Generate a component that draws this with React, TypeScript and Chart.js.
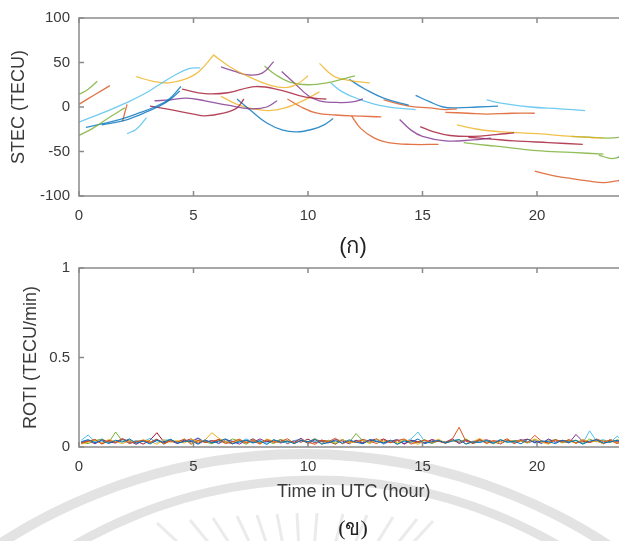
import React, { useEffect, useRef } from 'react';
import { Chart, registerables } from 'chart.js';

Chart.register(...registerables);
Chart.defaults.font.family = "'Liberation Sans', Arial, Helvetica, sans-serif";

// MATLAB default line colours
const COLORS = ['#0072BD', '#D95319', '#EDB120', '#7E2F8E', '#77AC30', '#4DBEEE', '#A2142F'];

// ---------- axes ----------
const hourTicks = [0, 5, 10, 15, 20];
const stecTicks = [-100, -50, 0, 50, 100];
const rotiTicks = [0, 0.5, 1];

// ---------- (ก) STEC arcs: [hour, TECU] ----------
const stecArcs: number[][][] = [
  [[0, 14], [0.4, 20], [0.8, 29]],
  [[0, 3], [0.7, 14], [1.35, 24]],
  [[0, -17], [0.5, -12], [1.2, -5], [2.0, 4], [2.8, 14], [3.5, 25], [4.2, 36], [4.8, 43], [5.3, 44]],
  [[0, -32], [0.6, -24], [1.3, -12], [2.0, -1]],
  [[0.3, -23], [1.0, -19], [1.8, -14], [2.6, -7], [3.3, 0], [3.9, 8], [4.45, 23]],
  [[1.0, -20], [2.0, -15], [3.0, -5], [3.8, 5], [4.4, 18]],
  [[1.9, -16], [2.1, 3]],
  [[2.1, -30], [2.5, -25], [2.95, -12]],
  [[2.5, 34], [3.2, 29], [3.9, 27], [4.6, 31], [5.2, 39], [5.9, 59]],
  [[5.9, 58], [6.6, 45], [7.5, 33], [8.4, 24], [9.1, 22], [9.6, 27], [10.0, 35]],
  [[6.2, 45], [6.8, 40], [7.4, 36], [8.0, 38], [8.5, 51]],
  [[4.5, 20], [5.5, 15], [6.5, 16], [7.7, 23], [8.8, 19], [9.9, 11], [10.8, 9]],
  [[3.3, 7], [4.0, 8], [4.7, 10], [5.5, 7], [6.5, 2], [7.5, -2], [8.2, 0], [8.65, 7]],
  [[3.1, 1], [4.0, -3], [5.0, -8], [5.5, -10], [6.3, -7], [6.9, -1], [7.2, 9]],
  [[6.9, 9], [7.5, -4], [8.2, -18], [8.9, -26], [9.5, -28], [10.2, -25], [10.7, -20], [11.1, -13]],
  [[6.2, 12], [6.9, 3], [7.6, -2], [8.3, -4], [9.0, -1], [9.7, 6], [10.5, 17]],
  [[8.1, 46], [8.6, 36], [9.2, 28], [10.0, 25], [11.0, 28], [11.6, 32], [12.05, 35]],
  [[8.85, 40], [9.4, 27], [10.0, 13], [10.5, 7], [11.4, 5], [12.0, 6], [12.4, 9]],
  [[9.1, 9], [9.7, 0], [10.4, -7], [11.2, -9], [11.9, -10], [13.2, -11]],
  [[11.9, -10], [12.3, -24], [12.9, -35], [13.5, -40], [14.5, -42], [15.7, -42]],
  [[10.5, 49], [11.1, 35], [11.8, 30], [12.7, 27]],
  [[11.0, 27], [11.5, 17], [12.2, 9], [13.3, 1], [14.7, -3]],
  [[11.8, 31], [12.5, 20], [13.3, 10], [14.4, 2]],
  [[13.3, 8], [14.4, 1], [15.3, -1], [16.0, -3], [16.5, -2]],
  [[14.7, 13], [15.3, 6], [15.9, 0], [16.5, -1], [17.4, 0], [18.3, 1]],
  [[16.0, -6], [17.0, -7], [17.8, -8], [18.9, -7], [19.9, -7]],
  [[17.8, 8], [18.5, 4], [19.7, 0], [21.0, -2], [22.1, -4]],
  [[14.0, -14], [14.5, -26], [15.0, -33], [16.0, -38], [17.2, -37], [18.0, -35]],
  [[14.9, -22], [15.5, -28], [16.2, -32], [17.2, -33], [18.2, -31], [19.0, -29]],
  [[17.0, -34], [18.0, -36], [19.0, -38], [20.5, -40], [22.0, -42]],
  [[16.5, -20], [17.4, -25], [18.5, -28], [20.0, -30], [21.5, -33], [22.9, -35]],
  [[16.8, -40], [17.8, -43], [18.6, -45], [20.0, -49], [21.5, -51], [22.9, -53]],
  [[21.5, -33], [22.3, -34], [23.1, -35], [24, -33]],
  [[22.7, -54], [23.3, -58], [23.9, -53], [24, -52]],
  [[23.5, -57], [24, -52]],
  [[19.9, -72], [20.7, -77], [21.4, -80], [22.2, -83], [22.9, -85], [23.5, -83], [24, -81]],
];
const stecArcColor = [4, 1, 5, 4, 0, 0, 1, 5, 2, 2, 3, 6, 3, 6, 0, 2, 4, 3, 1, 1, 2, 5, 0, 1, 0, 1, 5, 3, 6, 6, 2, 4, 4, 4, 5, 1];

// ---------- (ข) ROTI: samples every 0.3 h from 0.1 h, values in 0.001 TECU/min ----------
const rotiStartHour = 0.1;
const rotiStepHour = 0.3;
const rotiBlue = [30, 41, 24, 35, 19, 38, 27, 45, 22, 33, 17, 37, 26, 43, 21, 30, 36, 15, 40, 23, 31, 46, 18, 29, 38, 22, 34, 14, 41, 26, 33, 19, 37, 29, 44, 16, 25, 36, 21, 40, 27, 18, 42, 31, 23, 38, 15, 34, 26, 45, 19, 30, 37, 22, 33, 41, 16, 29, 25, 36, 21, 40, 27, 32, 18, 43, 23, 34, 30, 19, 38, 26, 36, 16, 33, 41, 22, 29, 37, 25];
const rotiOrange = [21, 33, 42, 16, 36, 26, 48, 19, 30, 38, 23, 41, 18, 34, 27, 45, 15, 37, 25, 33, 40, 19, 29, 44, 22, 36, 16, 41, 26, 31, 46, 21, 37, 27, 15, 38, 30, 49, 18, 34, 25, 42, 33, 19, 40, 23, 36, 45, 16, 29, 38, 26, 34, 21, 44, 110, 31, 23, 41, 19, 36, 29, 46, 18, 37, 25, 65, 33, 22, 40, 27, 42, 21, 34, 25, 45, 30, 37, 19, 33];
const rotiYellow = [16, 27, 37, 22, 42, 30, 19, 34, 25, 40, 33, 15, 41, 26, 36, 21, 45, 29, 38, 80, 49, 31, 23, 41, 27, 37, 18, 44, 33, 25, 36, 21, 40, 29, 46, 16, 34, 26, 42, 22, 30, 38, 19, 45, 27, 36, 23, 41, 31, 15, 37, 26, 44, 22, 33, 40, 18, 30, 48, 25, 34, 19, 41, 29, 37, 23, 45, 27, 16, 38, 26, 36, 21, 42, 30, 33, 18, 40, 25, 31];
const rotiPurple = [25, 36, 18, 40, 29, 22, 44, 33, 15, 37, 27, 42, 23, 34, 19, 38, 30, 48, 26, 36, 21, 41, 31, 16, 37, 26, 45, 29, 38, 22, 34, 27, 49, 19, 40, 30, 23, 42, 33, 18, 38, 25, 36, 45, 21, 33, 41, 16, 37, 29, 22, 40, 31, 26, 46, 19, 36, 27, 42, 23, 33, 18, 38, 30, 41, 25, 34, 21, 44, 27, 37, 22, 70, 31, 26, 40, 19, 34, 29, 41];
const rotiGreen = [27, 19, 37, 42, 25, 84, 31, 40, 21, 34, 26, 44, 16, 36, 30, 41, 22, 38, 29, 18, 37, 23, 45, 33, 15, 40, 27, 34, 19, 42, 30, 25, 38, 21, 46, 29, 36, 18, 41, 26, 75, 33, 22, 44, 27, 37, 16, 40, 31, 23, 42, 19, 34, 29, 38, 25, 45, 21, 36, 30, 18, 40, 26, 37, 33, 22, 42, 27, 34, 41, 23, 31, 38, 19, 44, 29, 36, 25, 40, 33];
const rotiLightBlue = [38, 67, 29, 46, 23, 34, 41, 19, 36, 30, 48, 26, 37, 42, 22, 40, 31, 52, 27, 36, 18, 41, 33, 25, 45, 29, 37, 21, 40, 30, 23, 36, 44, 26, 31, 19, 38, 29, 41, 22, 34, 42, 25, 37, 16, 33, 40, 27, 45, 84, 30, 21, 38, 26, 36, 42, 18, 33, 27, 37, 25, 41, 31, 22, 40, 29, 34, 19, 44, 26, 36, 29, 38, 23, 90, 33, 41, 26, 60, 31];
const rotiDarkRed = [22, 31, 40, 19, 37, 27, 44, 25, 34, 16, 38, 80, 29, 41, 23, 33, 45, 21, 36, 26, 42, 30, 18, 37, 26, 46, 22, 34, 29, 40, 19, 36, 27, 44, 23, 38, 31, 16, 41, 25, 33, 21, 40, 29, 45, 26, 36, 18, 38, 30, 23, 41, 33, 22, 37, 27, 42, 19, 34, 40, 29, 18, 38, 26, 36, 44, 25, 33, 21, 41, 30, 37, 22, 40, 27, 34, 19, 42, 26, 36];
const rotiSeries = [rotiBlue, rotiOrange, rotiYellow, rotiPurple, rotiGreen, rotiLightBlue, rotiDarkRed];

// ---------- styling ----------
const TEXT = '#3a3a3a';
const AXIS = '#8a8a8a';
const TICK_FONT = { size: 15 };
const TITLE_FONT = { size: 18 };
const CANVAS_W = 640;
const PAD_RIGHT = 11.4;

const framePlugin = {
  id: 'matlabFrame',
  afterDraw(chart: any) {
    const { ctx, chartArea: a, scales } = chart;
    ctx.save();
    ctx.strokeStyle = AXIS;
    ctx.lineWidth = 1.5;
    ctx.strokeRect(a.left, a.top, a.right - a.left, a.bottom - a.top);
    ctx.beginPath();
    const tl = 5;
    scales.x.ticks.forEach((t: any) => {
      const px = scales.x.getPixelForValue(t.value);
      ctx.moveTo(px, a.bottom); ctx.lineTo(px, a.bottom - tl);
      ctx.moveTo(px, a.top); ctx.lineTo(px, a.top + tl);
    });
    scales.y.ticks.forEach((t: any) => {
      const py = scales.y.getPixelForValue(t.value);
      ctx.moveTo(a.left, py); ctx.lineTo(a.left + tl, py);
      ctx.moveTo(a.right, py); ctx.lineTo(a.right - tl, py);
    });
    ctx.stroke();
    ctx.restore();
  },
};

function xScale(height: number, title?: any) {
  return {
    type: 'linear',
    min: 0,
    max: 24,
    afterBuildTicks: (s: any) => { s.ticks = hourTicks.map((v) => ({ value: v })); },
    afterFit: (s: any) => { s.height = height; },
    grid: { display: false, drawTicks: false },
    border: { display: false },
    ticks: { padding: 11, color: TEXT, font: TICK_FONT, maxRotation: 0, autoSkip: false, callback: (v: any) => String(v) },
    title: title || { display: false },
  };
}

function yScale(min: number, max: number, ticks: number[], title: string, titlePad: number) {
  return {
    type: 'linear',
    min,
    max,
    afterBuildTicks: (s: any) => { s.ticks = ticks.map((v) => ({ value: v })); },
    afterFit: (s: any) => { s.width = 79; },
    grid: { display: false, drawTicks: false },
    border: { display: false },
    ticks: { padding: 9, color: TEXT, font: TICK_FONT, autoSkip: false, callback: (v: any) => String(v) },
    title: { display: true, text: title, color: TEXT, font: TITLE_FONT, padding: { top: titlePad, bottom: 0 } },
  };
}

export default function App() {
  const topRef = useRef<HTMLCanvasElement>(null);
  const botRef = useRef<HTMLCanvasElement>(null);

  useEffect(() => {
    const top = new Chart(topRef.current!, {
      type: 'line',
      data: {
        datasets: stecArcs.map((arc, i) => ({
          data: arc.map(([h, v]) => ({ x: h, y: v })),
          borderColor: COLORS[stecArcColor[i]] + 'cc',
          borderWidth: 1.3,
          pointRadius: 0,
          tension: 0.4,
          fill: false,
        })),
      },
      options: {
        responsive: false,
        animation: false,
        events: [],
        layout: { padding: { left: 0, top: 16, right: PAD_RIGHT, bottom: 0 } },
        plugins: { legend: { display: false }, tooltip: { enabled: false } },
        scales: {
          x: xScale(36) as any,
          y: yScale(-100, 100, stecTicks, 'STEC (TECU)', 8) as any,
        },
      },
      plugins: [framePlugin],
    });

    const bottom = new Chart(botRef.current!, {
      type: 'line',
      data: {
        datasets: rotiSeries.map((vals, i) => ({
          data: vals.map((v, k) => ({ x: rotiStartHour + k * rotiStepHour, y: v / 1000 })),
          borderColor: COLORS[i],
          borderWidth: 1,
          pointRadius: 0,
          tension: 0,
          fill: false,
        })),
      },
      options: {
        responsive: false,
        animation: false,
        events: [],
        layout: { padding: { left: 0, top: 28, right: PAD_RIGHT, bottom: 0 } },
        plugins: { legend: { display: false }, tooltip: { enabled: false } },
        scales: {
          x: xScale(94, {
            display: true,
            text: 'Time in UTC (hour)',
            color: TEXT,
            font: TITLE_FONT,
            padding: { top: 0, bottom: 38 },
          }) as any,
          y: yScale(0, 1, rotiTicks, 'ROTI (TECU/min)', 20) as any,
        },
      },
      plugins: [framePlugin],
    });

    return () => {
      top.destroy();
      bottom.destroy();
    };
  }, []);

  // decorative watermark (faint university seal behind the figure)
  const rayTops = [[157, 523], [190, 520], [213, 518], [237, 516], [257, 515], [277, 514], [297, 513], [317, 513], [343, 514], [367, 515], [393, 517], [417, 519], [433, 521]];
  const rayCenter = [305, 660];

  return (
    <div style={{ position: 'fixed', left: 0, top: 0, width: 619, height: 541, overflow: 'hidden', background: '#fff' }}>
      <svg width={619} height={541} style={{ position: 'absolute', left: 0, top: 0 }}>
        <circle cx={303} cy={1010} r={556} fill="none" stroke="#e3e3e3" strokeWidth={10} />
        <circle cx={316} cy={960} r={480} fill="none" stroke="#e3e3e3" strokeWidth={9} />
        {rayTops.map(([x, y], i) => {
          const dx = rayCenter[0] - x;
          const dy = rayCenter[1] - y;
          const len = Math.hypot(dx, dy);
          return (
            <line key={i} x1={x} y1={y} x2={x + (dx / len) * 45} y2={y + (dy / len) * 45} stroke="#ebebeb" strokeWidth={3} />
          );
        })}
      </svg>
      <canvas ref={topRef} width={CANVAS_W} height={232} style={{ position: 'absolute', left: 0, top: 0 }} />
      <canvas ref={botRef} width={CANVAS_W} height={301} style={{ position: 'absolute', left: 0, top: 240 }} />
      <div style={{ position: 'absolute', left: 353, top: 232, transform: 'translateX(-50%)', font: "22px 'Liberation Sans', Arial, sans-serif", lineHeight: '28px', color: '#222', whiteSpace: 'nowrap' }}>
        (ก)
      </div>
      <div style={{ position: 'absolute', left: 353, top: 514, transform: 'translateX(-50%)', font: "22px 'Liberation Serif', 'Times New Roman', serif", lineHeight: '28px', color: '#222', whiteSpace: 'nowrap' }}>
        (ข)
      </div>
    </div>
  );
}
